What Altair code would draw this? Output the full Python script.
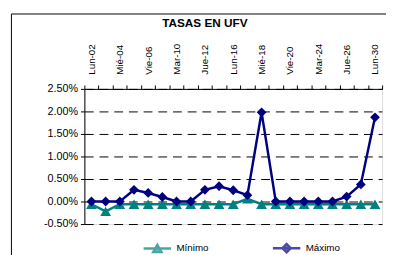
import altair as alt
import pandas as pd

dias = ["Lun-02", "Mar-03", "Mié-04", "Jue-05", "Vie-06", "Lun-09", "Mar-10",
        "Mié-11", "Jue-12", "Vie-13", "Lun-16", "Mar-17", "Mié-18", "Jue-19",
        "Vie-20", "Lun-23", "Mar-24", "Mié-25", "Jue-26", "Vie-27", "Lun-30"]
etiquetas = ["Lun-02", "Mié-04", "Vie-06", "Mar-10", "Jue-12", "Lun-16",
             "Mié-18", "Vie-20", "Mar-24", "Jue-26", "Lun-30"]
minimo = [-0.0006, -0.0022, -0.0006, -0.0006, -0.0006, -0.0006, -0.0006,
          -0.0006, -0.0006, -0.0006, -0.0006, 0.0006, -0.0006, -0.0006,
          -0.0006, -0.0006, -0.0006, -0.0006, -0.0006, -0.0006, -0.0006]
maximo = [0.0, 0.0, 0.0, 0.0026, 0.0019, 0.0010, 0.0, 0.0, 0.0026, 0.0034,
          0.0025, 0.0014, 0.0198, 0.0, 0.0, 0.0, 0.0, 0.0, 0.0011, 0.0038,
          0.0187]
series = ["Mínimo", "Máximo"]
colores = ["#008080", "#000080"]
y_ticks = [-0.005, 0.0, 0.005, 0.01, 0.015, 0.02, 0.025]

rows = []
for s, vals in zip(series, [minimo, maximo]):
    for i, (d, v) in enumerate(zip(dias, vals)):
        rows.append({"i": i, "dia": d, "serie": s, "valor": v})
df = pd.DataFrame(rows)

FONT = "Liberation Sans"
lab_list = "[" + ",".join("'" + e + "'" for e in etiquetas) + "]"

x_enc = alt.X(
    "dia:N", sort=dias, bandPosition=0.5,
    scale=alt.Scale(type="band", paddingInner=0, paddingOuter=0),
    axis=alt.Axis(orient="top", title=None, labelAngle=-90, labelAlign="left",
                  labelBaseline="middle", labelPadding=11, tickSize=4,
                  tickBand="extent", labelOverlap=False,
                  labelExpr="indexof(" + lab_list + ", datum.value) >= 0 ? datum.label : ''",
                  labelFont=FONT, labelFontSize=10, labelColor="black",
                  domainColor="black", tickColor="black", grid=False))
y_enc = alt.Y(
    "valor:Q",
    scale=alt.Scale(domain=[-0.005, 0.025], nice=False, zero=False),
    axis=alt.Axis(values=y_ticks, title=None, tickSize=4, labelPadding=3,
                  labelExpr="replace(format(datum.value, '.2%'), '\u2212', '-')",
                  labelFont=FONT, labelFontSize=11, labelColor="black",
                  domainColor="black", tickColor="black",
                  grid=True, gridDash=[9, 6], gridColor="black", gridWidth=1))

base = alt.Chart(df)
layers = []
for s, c, shp, sz in [("Mínimo", colores[0], "triangle-up", 121),
                      ("Máximo", colores[1], "diamond", 100)]:
    sub = base.transform_filter(alt.datum.serie == s)
    layers.append(sub.mark_line(color=c, strokeWidth=2.5).encode(
        x=x_enc, y=y_enc, order=alt.Order("i:Q")))
    layers.append(sub.mark_point(color=c, filled=True, opacity=1, shape=shp,
                                 size=sz).encode(x=x_enc, y=y_enc))

tri_path = "M-1,0L1,0M-0.3,0.26L0,-0.26L0.3,0.26Z"
dia_path = "M-1,0L1,0M-0.3,0L0,-0.3L0.3,0L0,0.3Z"
leg = alt.Legend(orient="none", legendX=59, legendY=147, direction="horizontal",
                 title=None, symbolSize=784, symbolStrokeWidth=2.5,
                 labelFont=FONT, labelFontSize=10, labelColor="black",
                 labelOffset=4, columnPadding=60)
legend_layer = base.transform_filter("datum.valor > 100").mark_point().encode(
    shape=alt.Shape("serie:N", scale=alt.Scale(domain=series, range=[tri_path, dia_path]), legend=leg),
    fill=alt.Fill("serie:N", scale=alt.Scale(domain=series, range=colores), legend=leg),
    stroke=alt.Stroke("serie:N", scale=alt.Scale(domain=series, range=colores), legend=leg),
)

one = alt.Data(values=[{"k": 0}])
frame_v = alt.Chart(one).mark_rule(color="black", strokeWidth=1).encode(
    x=alt.value(-74.5), y=alt.value(-76.5), y2=alt.value(200))
frame_h = alt.Chart(one).mark_rule(color="black", strokeWidth=1).encode(
    x=alt.value(-74.5), x2=alt.value(320), y=alt.value(-76.5))

chart = alt.layer(*layers, legend_layer, frame_v, frame_h).resolve_scale(
    shape="independent", fill="independent", stroke="independent"
).properties(
    width=304, height=138,
    title=alt.Title("TASAS EN UFV", font=FONT, fontSize=12, fontWeight="bold",
                    color="black", anchor="middle", dx=-29, offset=-29,
                    baseline="bottom"),
    autosize=alt.AutoSizeParams(type="none"),
    padding={"left": 78, "top": 80, "right": 4, "bottom": 29},
).configure_view(stroke=None).configure(background="white")

chart.save("out.html", embed_options={"renderer": "svg", "actions": False})
